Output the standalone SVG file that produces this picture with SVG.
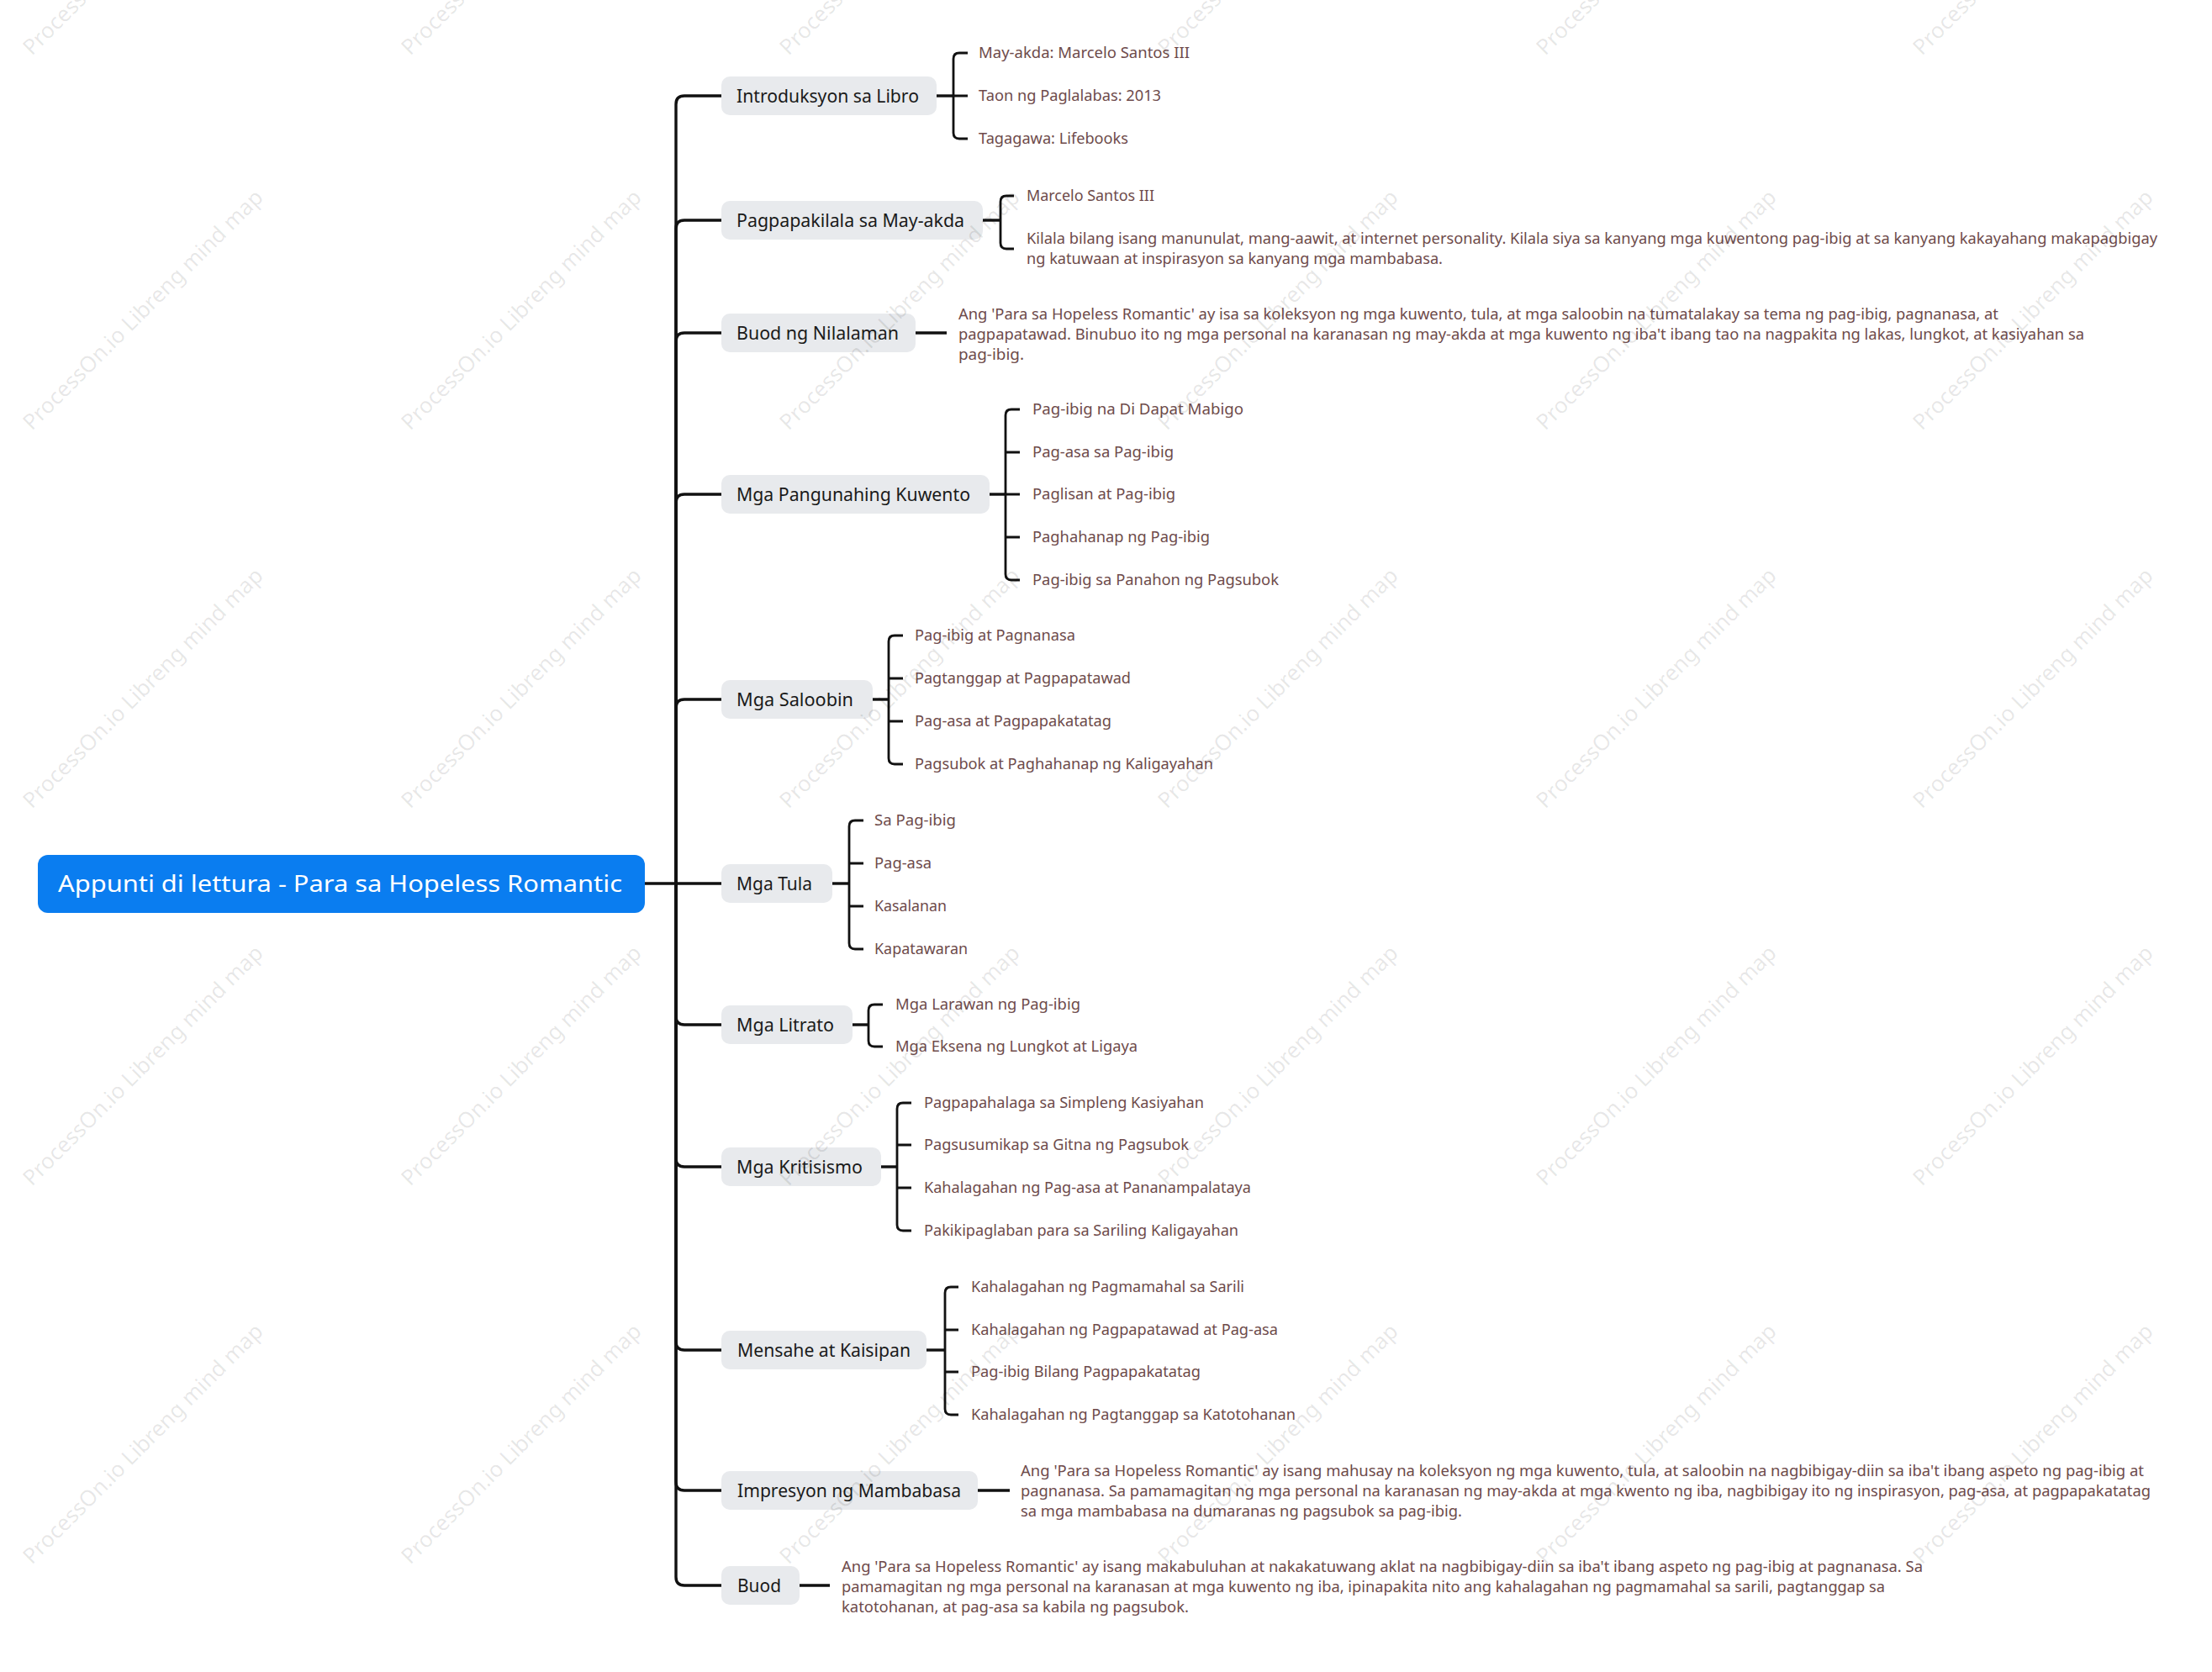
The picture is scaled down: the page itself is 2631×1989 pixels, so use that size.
<svg xmlns="http://www.w3.org/2000/svg" width="2631" height="1989" viewBox="0 0 2631 1989">
<style>
.box{fill:#e8eaed}
.root{fill:#0a7df0}
.rt{font-family:"Noto Sans","Open Sans",sans-serif;font-size:28px;fill:#ffffff}
.bt{font-family:"Noto Sans","Open Sans",sans-serif;font-size:21px;fill:#1a1a1a}
.lt{font-family:"Noto Sans","Open Sans",sans-serif;font-size:17.5px;fill:#6e4b4b}
.c{fill:none;stroke:#111111;stroke-width:3.4}
.k{fill:none;stroke:#111111;stroke-width:2.8}
.wm{font-family:"Noto Sans","Open Sans",sans-serif;font-size:26px;fill:#000000;fill-opacity:0.1}
</style>
<rect width="2631" height="1989" fill="#ffffff"/>
<g id="connectors">
<path class="c" d="M767 1051 H858"/>
<path class="c" d="M804 1051 V124 Q804 114 814 114 H858"/>
<path class="c" d="M804 1051 V272 Q804 262 814 262 H858"/>
<path class="c" d="M804 1051 V406 Q804 396 814 396 H858"/>
<path class="c" d="M804 1051 V598 Q804 588 814 588 H858"/>
<path class="c" d="M804 1051 V842 Q804 832 814 832 H858"/>
<path class="c" d="M804 1051 V1209 Q804 1219 814 1219 H858"/>
<path class="c" d="M804 1051 V1378 Q804 1388 814 1388 H858"/>
<path class="c" d="M804 1051 V1596 Q804 1606 814 1606 H858"/>
<path class="c" d="M804 1051 V1763 Q804 1773 814 1773 H858"/>
<path class="c" d="M804 1051 V1876 Q804 1886 814 1886 H858"/>
<path class="c" d="M1114 114 H1134"/>
<path class="k" d="M1151 63 H1141 Q1134 63 1134 70 V158 Q1134 165 1141 165 H1151 M1134 114 H1151"/>
<path class="c" d="M1169 262 H1190"/>
<path class="k" d="M1206 233 H1197 Q1190 233 1190 240 V289 Q1190 296 1197 296 H1206"/>
<path class="c" d="M1089 396 H1126"/>
<path class="c" d="M1177 588 H1196"/>
<path class="k" d="M1213 487 H1203 Q1196 487 1196 494 V683 Q1196 690 1203 690 H1213 M1196 538 H1213 M1196 588 H1213 M1196 639 H1213"/>
<path class="c" d="M1038 832 H1057"/>
<path class="k" d="M1074 756 H1064 Q1057 756 1057 763 V902 Q1057 909 1064 909 H1074 M1057 807 H1074 M1057 858 H1074"/>
<path class="c" d="M990 1051 H1010"/>
<path class="k" d="M1027 976 H1017 Q1010 976 1010 983 V1122 Q1010 1129 1017 1129 H1027 M1010 1027 H1027 M1010 1078 H1027"/>
<path class="c" d="M1014 1219 H1033"/>
<path class="k" d="M1050 1195 H1040 Q1033 1195 1033 1202 V1238 Q1033 1245 1040 1245 H1050"/>
<path class="c" d="M1048 1388 H1067"/>
<path class="k" d="M1084 1312 H1074 Q1067 1312 1067 1319 V1457 Q1067 1464 1074 1464 H1084 M1067 1362 H1084 M1067 1413 H1084"/>
<path class="c" d="M1102 1606 H1124"/>
<path class="k" d="M1140 1531 H1131 Q1124 1531 1124 1538 V1676 Q1124 1683 1131 1683 H1140 M1124 1582 H1140 M1124 1632 H1140"/>
<path class="c" d="M1163 1773 H1201"/>
<path class="c" d="M951 1886 H987"/>
</g>
<g id="root">
<rect class="root" x="45" y="1017" width="722" height="69" rx="12"/>
<text class="rt" x="69" y="1061" textLength="671" lengthAdjust="spacingAndGlyphs">Appunti di lettura - Para sa Hopeless Romantic</text>
</g>
<g id="n1"><rect class="box" x="858" y="91" width="256" height="46" rx="10"/><text class="bt" x="876" y="121.5" textLength="217" lengthAdjust="spacingAndGlyphs">Introduksyon sa Libro</text></g>
<g id="n1-1"><text class="lt" x="1164" y="69" textLength="251" lengthAdjust="spacingAndGlyphs">May-akda: Marcelo Santos III</text></g>
<g id="n1-2"><text class="lt" x="1164" y="120" textLength="217" lengthAdjust="spacingAndGlyphs">Taon ng Paglalabas: 2013</text></g>
<g id="n1-3"><text class="lt" x="1164" y="171" textLength="178" lengthAdjust="spacingAndGlyphs">Tagagawa: Lifebooks</text></g>

<g id="n2"><rect class="box" x="858" y="239" width="311" height="46" rx="10"/><text class="bt" x="876" y="269.5" textLength="271" lengthAdjust="spacingAndGlyphs">Pagpapakilala sa May-akda</text></g>
<g id="n2-1"><text class="lt" x="1221" y="239" textLength="152" lengthAdjust="spacingAndGlyphs">Marcelo Santos III</text></g>
<g id="n2-2"><text class="lt" x="1221" y="290" textLength="1345" lengthAdjust="spacingAndGlyphs">Kilala bilang isang manunulat, mang-aawit, at internet personality. Kilala siya sa kanyang mga kuwentong pag-ibig at sa kanyang kakayahang makapagbigay</text><text class="lt" x="1221" y="314" textLength="495" lengthAdjust="spacingAndGlyphs">ng katuwaan at inspirasyon sa kanyang mga mambabasa.</text></g>

<g id="n3"><rect class="box" x="858" y="373" width="231" height="46" rx="10"/><text class="bt" x="876" y="403.5" textLength="193" lengthAdjust="spacingAndGlyphs">Buod ng Nilalaman</text></g>
<g id="n3-1"><text class="lt" x="1140" y="380" textLength="1237" lengthAdjust="spacingAndGlyphs">Ang 'Para sa Hopeless Romantic' ay isa sa koleksyon ng mga kuwento, tula, at mga saloobin na tumatalakay sa tema ng pag-ibig, pagnanasa, at</text><text class="lt" x="1140" y="404" textLength="1339" lengthAdjust="spacingAndGlyphs">pagpapatawad. Binubuo ito ng mga personal na karanasan ng may-akda at mga kuwento ng iba't ibang tao na nagpakita ng lakas, lungkot, at kasiyahan sa</text><text class="lt" x="1140" y="428" textLength="78" lengthAdjust="spacingAndGlyphs">pag-ibig.</text></g>

<g id="n4"><rect class="box" x="858" y="565" width="319" height="46" rx="10"/><text class="bt" x="876" y="595.5" textLength="278" lengthAdjust="spacingAndGlyphs">Mga Pangunahing Kuwento</text></g>
<g id="n4-1"><text class="lt" x="1228" y="493" textLength="251" lengthAdjust="spacingAndGlyphs">Pag-ibig na Di Dapat Mabigo</text></g>
<g id="n4-2"><text class="lt" x="1228" y="544" textLength="168" lengthAdjust="spacingAndGlyphs">Pag-asa sa Pag-ibig</text></g>
<g id="n4-3"><text class="lt" x="1228" y="594" textLength="170" lengthAdjust="spacingAndGlyphs">Paglisan at Pag-ibig</text></g>
<g id="n4-4"><text class="lt" x="1228" y="645" textLength="211" lengthAdjust="spacingAndGlyphs">Paghahanap ng Pag-ibig</text></g>
<g id="n4-5"><text class="lt" x="1228" y="696" textLength="293" lengthAdjust="spacingAndGlyphs">Pag-ibig sa Panahon ng Pagsubok</text></g>

<g id="n5"><rect class="box" x="858" y="809" width="180" height="46" rx="10"/><text class="bt" x="876" y="839.5" textLength="139" lengthAdjust="spacingAndGlyphs">Mga Saloobin</text></g>
<g id="n5-1"><text class="lt" x="1088" y="762" textLength="191" lengthAdjust="spacingAndGlyphs">Pag-ibig at Pagnanasa</text></g>
<g id="n5-2"><text class="lt" x="1088" y="813" textLength="257" lengthAdjust="spacingAndGlyphs">Pagtanggap at Pagpapatawad</text></g>
<g id="n5-3"><text class="lt" x="1088" y="864" textLength="234" lengthAdjust="spacingAndGlyphs">Pag-asa at Pagpapakatatag</text></g>
<g id="n5-4"><text class="lt" x="1088" y="915" textLength="355" lengthAdjust="spacingAndGlyphs">Pagsubok at Paghahanap ng Kaligayahan</text></g>

<g id="n6"><rect class="box" x="858" y="1028" width="132" height="46" rx="10"/><text class="bt" x="876" y="1058.5" textLength="90" lengthAdjust="spacingAndGlyphs">Mga Tula</text></g>
<g id="n6-1"><text class="lt" x="1040" y="982" textLength="97" lengthAdjust="spacingAndGlyphs">Sa Pag-ibig</text></g>
<g id="n6-2"><text class="lt" x="1040" y="1033" textLength="68" lengthAdjust="spacingAndGlyphs">Pag-asa</text></g>
<g id="n6-3"><text class="lt" x="1040" y="1084" textLength="86" lengthAdjust="spacingAndGlyphs">Kasalanan</text></g>
<g id="n6-4"><text class="lt" x="1040" y="1135" textLength="111" lengthAdjust="spacingAndGlyphs">Kapatawaran</text></g>

<g id="n7"><rect class="box" x="858" y="1196" width="156" height="46" rx="10"/><text class="bt" x="876" y="1226.5" textLength="116" lengthAdjust="spacingAndGlyphs">Mga Litrato</text></g>
<g id="n7-1"><text class="lt" x="1065" y="1201" textLength="220" lengthAdjust="spacingAndGlyphs">Mga Larawan ng Pag-ibig</text></g>
<g id="n7-2"><text class="lt" x="1065" y="1251" textLength="288" lengthAdjust="spacingAndGlyphs">Mga Eksena ng Lungkot at Ligaya</text></g>

<g id="n8"><rect class="box" x="858" y="1365" width="190" height="46" rx="10"/><text class="bt" x="876" y="1395.5" textLength="150" lengthAdjust="spacingAndGlyphs">Mga Kritisismo</text></g>
<g id="n8-1"><text class="lt" x="1099" y="1318" textLength="333" lengthAdjust="spacingAndGlyphs">Pagpapahalaga sa Simpleng Kasiyahan</text></g>
<g id="n8-2"><text class="lt" x="1099" y="1368" textLength="315" lengthAdjust="spacingAndGlyphs">Pagsusumikap sa Gitna ng Pagsubok</text></g>
<g id="n8-3"><text class="lt" x="1099" y="1419" textLength="389" lengthAdjust="spacingAndGlyphs">Kahalagahan ng Pag-asa at Pananampalataya</text></g>
<g id="n8-4"><text class="lt" x="1099" y="1470" textLength="374" lengthAdjust="spacingAndGlyphs">Pakikipaglaban para sa Sariling Kaligayahan</text></g>

<g id="n9"><rect class="box" x="858" y="1583" width="244" height="46" rx="10"/><text class="bt" x="877" y="1613.5" textLength="206" lengthAdjust="spacingAndGlyphs">Mensahe at Kaisipan</text></g>
<g id="n9-1"><text class="lt" x="1155" y="1537" textLength="325" lengthAdjust="spacingAndGlyphs">Kahalagahan ng Pagmamahal sa Sarili</text></g>
<g id="n9-2"><text class="lt" x="1155" y="1588" textLength="365" lengthAdjust="spacingAndGlyphs">Kahalagahan ng Pagpapatawad at Pag-asa</text></g>
<g id="n9-3"><text class="lt" x="1155" y="1638" textLength="273" lengthAdjust="spacingAndGlyphs">Pag-ibig Bilang Pagpapakatatag</text></g>
<g id="n9-4"><text class="lt" x="1155" y="1689" textLength="386" lengthAdjust="spacingAndGlyphs">Kahalagahan ng Pagtanggap sa Katotohanan</text></g>

<g id="n10"><rect class="box" x="858" y="1750" width="305" height="46" rx="10"/><text class="bt" x="877" y="1780.5" textLength="266" lengthAdjust="spacingAndGlyphs">Impresyon ng Mambabasa</text></g>
<g id="n10-1"><text class="lt" x="1214" y="1756" textLength="1336" lengthAdjust="spacingAndGlyphs">Ang 'Para sa Hopeless Romantic' ay isang mahusay na koleksyon ng mga kuwento, tula, at saloobin na nagbibigay-diin sa iba't ibang aspeto ng pag-ibig at</text><text class="lt" x="1214" y="1780" textLength="1344" lengthAdjust="spacingAndGlyphs">pagnanasa. Sa pamamagitan ng mga personal na karanasan ng may-akda at mga kwento ng iba, nagbibigay ito ng inspirasyon, pag-asa, at pagpapakatatag</text><text class="lt" x="1214" y="1804" textLength="525" lengthAdjust="spacingAndGlyphs">sa mga mambabasa na dumaranas ng pagsubok sa pag-ibig.</text></g>

<g id="n11"><rect class="box" x="858" y="1863" width="93" height="46" rx="10"/><text class="bt" x="877" y="1893.5" textLength="52" lengthAdjust="spacingAndGlyphs">Buod</text></g>
<g id="n11-1"><text class="lt" x="1001" y="1870" textLength="1286" lengthAdjust="spacingAndGlyphs">Ang 'Para sa Hopeless Romantic' ay isang makabuluhan at nakakatuwang aklat na nagbibigay-diin sa iba't ibang aspeto ng pag-ibig at pagnanasa. Sa</text><text class="lt" x="1001" y="1894" textLength="1241" lengthAdjust="spacingAndGlyphs">pamamagitan ng mga personal na karanasan at mga kuwento ng iba, ipinapakita nito ang kahalagahan ng pagmamahal sa sarili, pagtanggap sa</text><text class="lt" x="1001" y="1918" textLength="413" lengthAdjust="spacingAndGlyphs">katotohanan, at pag-asa sa kabila ng pagsubok.</text></g>

<g id="watermarks">
<text class="wm" transform="translate(38 67) rotate(-45)">ProcessOn.io Libreng mind map</text>
<text class="wm" transform="translate(488 67) rotate(-45)">ProcessOn.io Libreng mind map</text>
<text class="wm" transform="translate(938 67) rotate(-45)">ProcessOn.io Libreng mind map</text>
<text class="wm" transform="translate(1388 67) rotate(-45)">ProcessOn.io Libreng mind map</text>
<text class="wm" transform="translate(1838 67) rotate(-45)">ProcessOn.io Libreng mind map</text>
<text class="wm" transform="translate(2286 67) rotate(-45)">ProcessOn.io Libreng mind map</text>
<text class="wm" transform="translate(38 513) rotate(-45)">ProcessOn.io Libreng mind map</text>
<text class="wm" transform="translate(488 513) rotate(-45)">ProcessOn.io Libreng mind map</text>
<text class="wm" transform="translate(938 513) rotate(-45)">ProcessOn.io Libreng mind map</text>
<text class="wm" transform="translate(1388 513) rotate(-45)">ProcessOn.io Libreng mind map</text>
<text class="wm" transform="translate(1838 513) rotate(-45)">ProcessOn.io Libreng mind map</text>
<text class="wm" transform="translate(2286 513) rotate(-45)">ProcessOn.io Libreng mind map</text>
<text class="wm" transform="translate(38 963) rotate(-45)">ProcessOn.io Libreng mind map</text>
<text class="wm" transform="translate(488 963) rotate(-45)">ProcessOn.io Libreng mind map</text>
<text class="wm" transform="translate(938 963) rotate(-45)">ProcessOn.io Libreng mind map</text>
<text class="wm" transform="translate(1388 963) rotate(-45)">ProcessOn.io Libreng mind map</text>
<text class="wm" transform="translate(1838 963) rotate(-45)">ProcessOn.io Libreng mind map</text>
<text class="wm" transform="translate(2286 963) rotate(-45)">ProcessOn.io Libreng mind map</text>
<text class="wm" transform="translate(38 1412) rotate(-45)">ProcessOn.io Libreng mind map</text>
<text class="wm" transform="translate(488 1412) rotate(-45)">ProcessOn.io Libreng mind map</text>
<text class="wm" transform="translate(938 1412) rotate(-45)">ProcessOn.io Libreng mind map</text>
<text class="wm" transform="translate(1388 1412) rotate(-45)">ProcessOn.io Libreng mind map</text>
<text class="wm" transform="translate(1838 1412) rotate(-45)">ProcessOn.io Libreng mind map</text>
<text class="wm" transform="translate(2286 1412) rotate(-45)">ProcessOn.io Libreng mind map</text>
<text class="wm" transform="translate(38 1862) rotate(-45)">ProcessOn.io Libreng mind map</text>
<text class="wm" transform="translate(488 1862) rotate(-45)">ProcessOn.io Libreng mind map</text>
<text class="wm" transform="translate(938 1862) rotate(-45)">ProcessOn.io Libreng mind map</text>
<text class="wm" transform="translate(1388 1862) rotate(-45)">ProcessOn.io Libreng mind map</text>
<text class="wm" transform="translate(1838 1862) rotate(-45)">ProcessOn.io Libreng mind map</text>
<text class="wm" transform="translate(2286 1862) rotate(-45)">ProcessOn.io Libreng mind map</text>
</g>
</svg>
